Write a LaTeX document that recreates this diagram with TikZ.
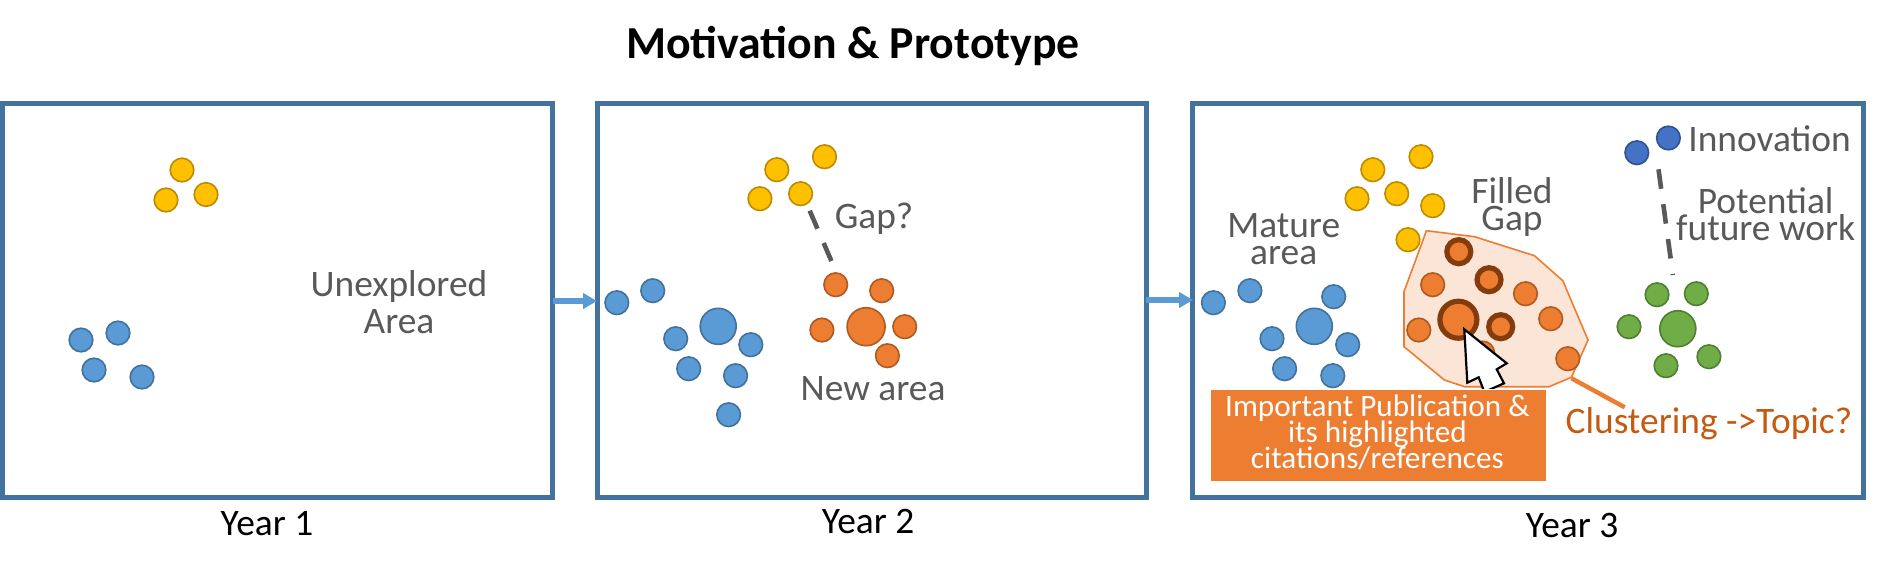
\documentclass[tikz,border=0pt]{standalone}
\usepackage{fontspec}
\setmainfont{Carlito}
\usetikzlibrary{arrows.meta}
\definecolor{framec}{HTML}{44729F}
\definecolor{bluec}{HTML}{5B9BD5}
\definecolor{blued}{HTML}{41719C}
\definecolor{yelc}{HTML}{FFC000}
\definecolor{yeld}{HTML}{BC8C00}
\definecolor{orac}{HTML}{ED7D31}
\definecolor{orad}{HTML}{AE5A21}
\definecolor{brownc}{HTML}{843C0C}
\definecolor{grnc}{HTML}{70AD47}
\definecolor{grnd}{HTML}{507E32}
\definecolor{navyc}{HTML}{4472C4}
\definecolor{navyd}{HTML}{2F528F}
\definecolor{greyc}{HTML}{595959}
\definecolor{clusc}{HTML}{C55A11}
\definecolor{hullc}{HTML}{FBE5D6}
\tikzset{
  x=0.5pt,y=-0.5pt,
  yrframe/.style={draw=framec,line width=2.5pt,inner sep=0pt,outer sep=0pt,minimum height=196.85pt},
  dotc/.style={circle,inner sep=0pt,outer sep=0pt,line width=0.8pt,minimum size=#1},
  bdot/.style={dotc=#1,draw=blued,fill=bluec},
  bdot/.default=11.8pt,
  ydot/.style={dotc=11.8pt,draw=yeld,fill=yelc},
  odot/.style={dotc=#1,draw=orad,fill=orac},
  odot/.default=11.8pt,
  gdot/.style={dotc=#1,draw=grnd,fill=grnc},
  gdot/.default=11.8pt,
  ndot/.style={dotc=11.8pt,draw=navyd,fill=navyc},
  hidot/.style={dotc=#1,draw=brownc,fill=orac,line width=2.6pt},
  lab/.style={font=\fontsize{18.7}{18.5}\selectfont,text=greyc,align=center,inner sep=0pt},
  yearlab/.style={font=\fontsize{18.7}{20}\selectfont,text=black,inner sep=0pt},
  flow/.style={draw=bluec,line width=2.6pt,-{Triangle[length=7pt,width=7.6pt]},shorten <=0pt,shorten >=0pt},
  gapline/.style={draw=greyc,line width=2.3pt,dash pattern=on 9.8pt off 7.8pt},
}
\begin{document}
\begin{tikzpicture}
\useasboundingbox (0,0) rectangle (1896,570);
\fill[white] (0,0) rectangle (1896,570);
\node[font=\fontsize{22.9}{26}\selectfont\bfseries,inner sep=0pt] (title) at (853,46) {Motivation \& Prototype};
% frames
\node[yrframe,minimum width=275.2pt] (f1) at (277.5,300.8) {};
\node[yrframe,minimum width=274.7pt] (f2) at (872,300.8) {};
\node[yrframe,minimum width=335.35pt] (f3) at (1528.3,300.8) {};
\node[yearlab] (y1) at (267,524) {Year 1};
\node[yearlab] (y2) at (868,521) {Year 2};
\node[yearlab] (y3) at (1572,525) {Year 3};
% arrows
\coordinate (a1s) at (553,301); \coordinate (a1e) at (597,301);
\coordinate (a2s) at (1146,300); \coordinate (a2e) at (1193,300);
\draw[flow] (a1s) -- (a1e);
\draw[flow] (a2s) -- (a2e);
% Year 1
\node[ydot] (a1) at (182,170) {};
\node[ydot] (a2) at (166,200) {};
\node[ydot] (a3) at (206,194.5) {};
\node[bdot] (a4) at (81,340) {};
\node[bdot] (a5) at (118,333) {};
\node[bdot] (a6) at (94,370) {};
\node[bdot] (a7) at (142,377) {};
\node[lab] (unexp) at (399,302.5) {Unexplored\\Area};
% Year 2
\node[ydot] (b1) at (824.5,156.7) {};
\node[ydot] (b2) at (776.8,169.7) {};
\node[ydot] (b3) at (759.9,198.7) {};
\node[ydot] (b4) at (800.6,193.7) {};
\node[bdot] (b5) at (616.8,302.7) {};
\node[bdot] (b6) at (652.7,290.7) {};
\node[bdot=18pt] (b7) at (718.2,326.3) {};
\node[bdot] (b8) at (675.7,338.7) {};
\node[bdot] (b9) at (750.8,344.7) {};
\node[bdot] (b10) at (688.7,368.7) {};
\node[bdot] (b11) at (735.6,375.7) {};
\node[bdot] (b12) at (728.6,414.7) {};
\node[odot] (b13) at (835.7,284.7) {};
\node[odot] (b14) at (881.7,290.7) {};
\node[odot=19pt] (b15) at (866.1,326.7) {};
\node[odot] (b16) at (821.9,330) {};
\node[odot] (b17) at (904.7,326.7) {};
\node[odot] (b18) at (887.4,355.7) {};
\coordinate (g1) at (809.7,210.7); \coordinate (g2) at (831.4,261);
\draw[gapline] (g1) -- (g2);
\node[lab] (gap) at (874,219) {Gap?};
\node[lab] (newarea) at (873,389) {New area};
% Year 3
\node[ydot] (c1) at (1421,156.7) {};
\node[ydot] (c2) at (1372.8,169.7) {};
\node[ydot] (c3) at (1357,198.7) {};
\node[ydot] (c4) at (1396.7,193.7) {};
\node[ydot] (c5) at (1432.7,205.7) {};
\node[ydot] (c6) at (1408,239.7) {};
\draw[draw=orac,fill=hullc,line width=0.8pt] (1426.4,230.7) -- (1474.6,236.7) -- (1534.4,255.7) -- (1562.8,280.7) -- (1588,340) -- (1571.4,377.3) -- (1549,386.7) -- (1464.7,386.7) -- (1444.4,380) -- (1404,346.7) -- (1404,291.7) -- cycle;
\node[bdot] (c7) at (1213.4,302.7) {};
\node[bdot] (c8) at (1249.9,290.7) {};
\node[bdot] (c9) at (1333.7,296.7) {};
\node[bdot=18pt] (c10) at (1314.3,326.3) {};
\node[bdot] (c11) at (1272,338.7) {};
\node[bdot] (c12) at (1347.7,344.7) {};
\node[bdot] (c13) at (1284.6,368.7) {};
\node[bdot] (c14) at (1332.8,375.7) {};
\node[odot] (c15) at (1432.7,284.7) {};
\node[odot] (c16) at (1525.5,293.7) {};
\node[odot] (c17) at (1550.7,318.7) {};
\node[odot] (c18) at (1418.8,330) {};
\node[odot] (c19) at (1567.8,358.7) {};
\node[odot] (c20) at (1482.7,353) {};
\node[hidot=12pt] (h1) at (1458.8,251.7) {};
\node[hidot=12pt] (h2) at (1489,279.7) {};
\node[hidot=12pt] (h3) at (1500.7,326.7) {};
\node[hidot=18.5pt] (h4) at (1458.4,319.7) {};
\draw[fill=white,draw=black,line width=1.1pt,line join=miter] (1464.3,329.3) -- (1467.3,382.7) -- (1478.7,377.3) -- (1484.3,392) -- (1504,383.3) -- (1496.7,369.3) -- (1506.7,363.3) -- cycle;
\node[fill=orac,draw=white,line width=0.6pt,inner sep=0pt,minimum width=168pt,minimum height=46pt] (imp) at (1378.7,435.3) {};
\node[font=\fontsize{15.6}{15.6}\selectfont,text=white,align=center,inner sep=0pt] (imptext) at (1377.4,432) {Important Publication \&\\[-2.6pt]its highlighted\\[-2.6pt]citations/references};
\coordinate (cl1) at (1571.5,378.3); \coordinate (cl2) at (1624.7,407.3);
\draw[draw=orac,line width=2.2pt] (cl1) -- (cl2);
\node[lab,text=clusc] (clus) at (1708.9,424) {Clustering ->Topic?};
\node[lab] (mature) at (1283.7,239.5) {Mature\\[-5pt]area};
\node[lab] (filled) at (1512,207.5) {Filled\\[-5pt]Gap};
\node[lab] (pot) at (1765.7,214) {Potential\\[-5pt]future work};
\node[lab,anchor=west] (innov) at (1688,138.3) {Innovation};
\node[ndot] (d1) at (1636.8,152.7) {};
\node[ndot] (d2) at (1668.4,138) {};
\coordinate (k1) at (1658.5,169.3); \coordinate (k2) at (1672.9,275);
\draw[gapline] (k1) -- (k2);
\node[gdot] (e1) at (1657,294.7) {};
\node[gdot] (e2) at (1696.3,293.7) {};
\node[gdot=18pt] (e3) at (1677.8,328.7) {};
\node[gdot] (e4) at (1629,326.7) {};
\node[gdot] (e5) at (1708.9,356.7) {};
\node[gdot] (e6) at (1666,365.7) {};
\end{tikzpicture}
\end{document}
